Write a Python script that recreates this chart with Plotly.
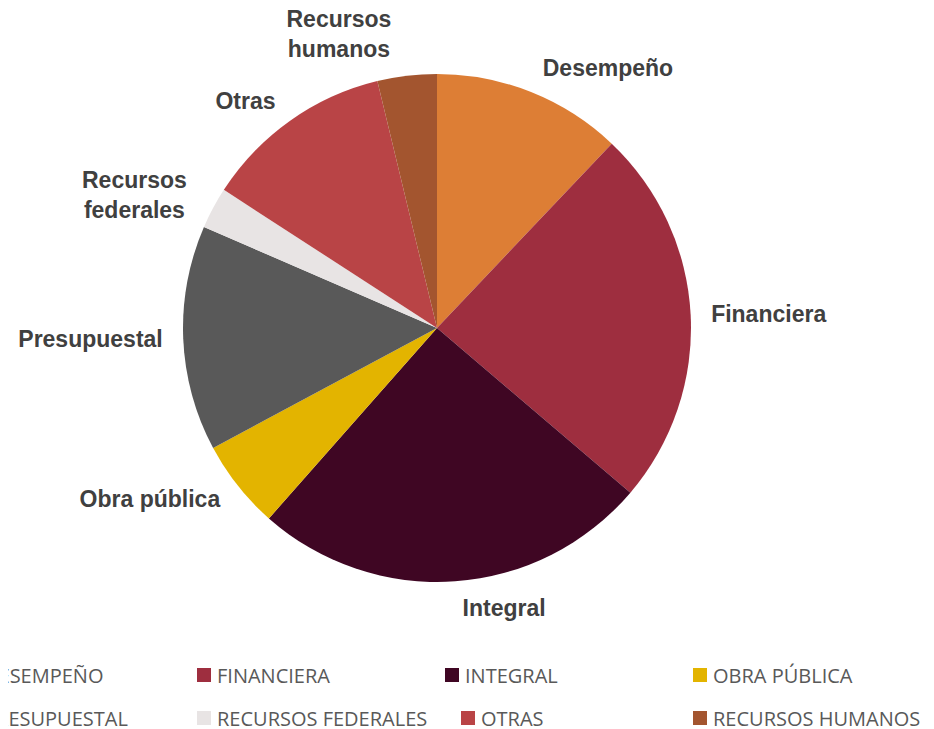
import plotly.graph_objects as go

# categories and values
categorias = ['Desempeño', 'Financiera', 'Integral', 'Obra pública', 'Presupuestal',
              'Recursos federales', 'Otras', 'Recursos humanos']
etiquetas = ['Desempeño', 'Financiera', 'Integral', 'Obra pública', 'Presupuestal',
             'Recursos<br>federales', 'Otras', 'Recursos<br>humanos']
leyenda = ['DESEMPEÑO', 'FINANCIERA', 'INTEGRAL', 'OBRA PÚBLICA', 'PRESUPUESTAL',
           'RECURSOS FEDERALES', 'OTRAS', 'RECURSOS HUMANOS']
valores = [32, 64, 67, 15, 38, 7, 32, 10]
colores = ['#DD7E35', '#9E2E3F', '#3F0623', '#E3B400', '#595959',
           '#E8E4E4', '#B94446', '#A3552F']

W, H = 934, 729
off = 8  # the page body margin pushes the plot 8px right and down
cx, cy, r = 437 - off, 328 - off, 254
r_txt = r + 14  # a bigger, invisible pie carries the labels so they sit further out


def dominio(radio):
    return dict(x=[(cx - radio) / W, (cx + radio) / W],
                y=[1 - (cy + radio) / H, 1 - (cy - radio) / H])


fig = go.Figure()

# the visible pie
fig.add_trace(go.Pie(
    labels=categorias,
    values=valores,
    textinfo='none',
    sort=False,
    direction='clockwise',
    rotation=0,
    marker=dict(colors=colores, line=dict(width=0)),
    domain=dominio(r),
    showlegend=False,
    hoverinfo='label+value+percent',
))

# labels only
fig.add_trace(go.Pie(
    labels=categorias,
    values=valores,
    text=etiquetas,
    textinfo='text',
    textposition='outside',
    sort=False,
    direction='clockwise',
    rotation=0,
    marker=dict(colors=['rgba(0,0,0,0)'] * len(valores), line=dict(width=0)),
    outsidetextfont=dict(family='Liberation Sans, Arial', size=23, color='#404040', weight='bold'),
    domain=dominio(r_txt),
    showlegend=False,
    hoverinfo='skip',
))

# legend drawn by hand (it runs off the left edge in the reference)
col_x = [[-36, 197, 445, 693], [-36, 197, 461, 693]]
row_y = [675, 718]
for i, (nombre, color) in enumerate(zip(leyenda, colores)):
    fila = i // 4
    x0 = col_x[fila][i % 4] - off
    y0 = row_y[fila] - off
    fig.add_shape(type='rect', xref='paper', yref='paper',
                  x0=x0 / W, x1=(x0 + 14) / W,
                  y0=1 - (y0 + 7) / H, y1=1 - (y0 - 7) / H,
                  fillcolor=color, line=dict(width=0))
    fig.add_annotation(x=(x0 + 18) / W, y=1 - y0 / H, xref='paper', yref='paper',
                       text=nombre, showarrow=False, xanchor='left', yanchor='middle',
                       font=dict(family='Open Sans', size=20, color='#595959'))

fig.update_layout(
    width=W, height=H,
    margin=dict(l=0, r=0, t=0, b=0, autoexpand=False),
    paper_bgcolor='white',
    plot_bgcolor='white',
)

fig.write_html("out.html")
